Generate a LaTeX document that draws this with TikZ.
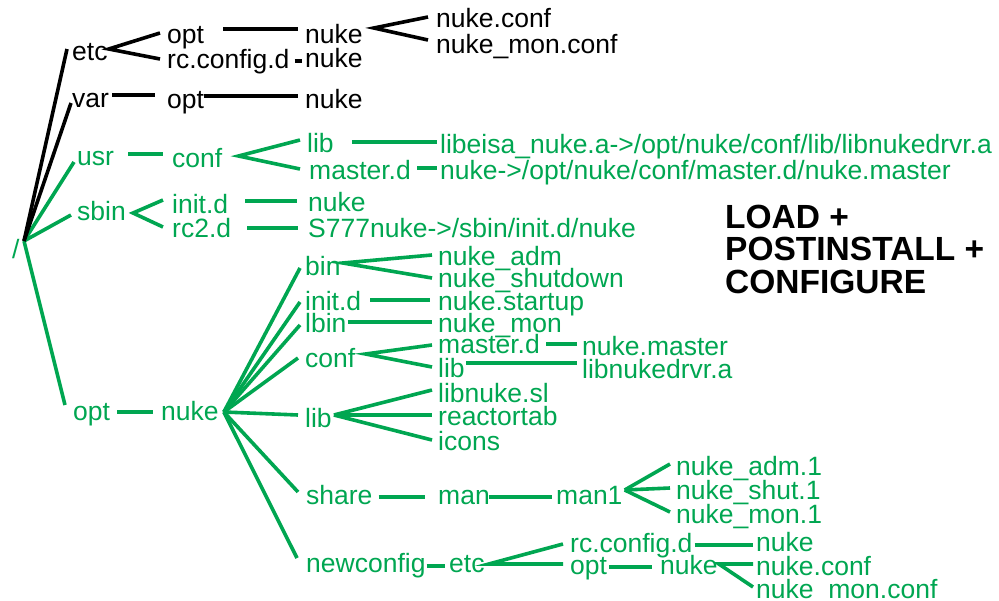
\documentclass[tikz,border=0pt]{standalone}
\usepackage{fontspec}
\setmainfont{Liberation Sans}
\definecolor{pkggreen}{RGB}{0,166,81}
\begin{document}
\begin{tikzpicture}[x=1pt,y=-1pt,
  lbl/.style={inner sep=0pt,anchor=base west,font=\fontsize{26.5}{26.5}\selectfont},
  blk/.style={lbl,text=black},
  grn/.style={lbl,text=pkggreen},
  kline/.style={draw=black,line width=3.6pt},
  gline/.style={draw=pkggreen,line width=3.6pt},
  banner/.style={inner sep=0pt,anchor=base west,
    font=\fontsize{33.5}{32.5}\selectfont\bfseries}]
\useasboundingbox (0,0) rectangle (999,600);

% ---- file names ----
\node[grn] (root) at (12,258) {/};
% /etc and /var (black)
\node[blk] (etc)      at (72,60)   {etc};
\node[blk] (var)      at (72,107)  {var};
\node[blk] (etcopt)   at (167,43)  {opt};
\node[blk] (rccfg)    at (167,68)  {rc.config.d};
\node[blk] (nukeA)    at (305,43)  {nuke};
\node[blk] (nukeB)    at (305,67)  {nuke};
\node[blk] (nconf)    at (436,27)  {nuke.conf};
\node[blk] (nmonconf) at (436,53)  {nuke\_mon.conf};
\node[blk] (varopt)   at (167,108) {opt};
\node[blk] (varnuke)  at (305,108) {nuke};
% /usr and /sbin
\node[grn] (usr)      at (77,165)  {usr};
\node[grn] (uconf)    at (172,167) {conf};
\node[grn] (ulib)     at (307,152) {lib};
\node[grn] (umaster)  at (309,179) {master.d};
\node[grn] (libeisa)  at (440,153) {libeisa\_nuke.a->/opt/nuke/conf/lib/libnukedrvr.a};
\node[grn] (nlink)    at (440,179) {nuke->/opt/nuke/conf/master.d/nuke.master};
\node[grn] (sbin)     at (77,220)  {sbin};
\node[grn] (sinit)    at (172,213) {init.d};
\node[grn] (src2)     at (172,237) {rc2.d};
\node[grn] (snuke)    at (308,211) {nuke};
\node[grn] (s777)     at (308,237) {S777nuke->/sbin/init.d/nuke};
% /opt/nuke
\node[grn] (opt)      at (73,420)  {opt};
\node[grn] (nuke)     at (161,420) {nuke};
\node[grn] (bin)      at (305,275) {bin};
\node[grn] (nadm)     at (438,265) {nuke\_adm};
\node[grn] (nshut)    at (438,287) {nuke\_shutdown};
\node[grn] (oinit)    at (305,310) {init.d};
\node[grn] (nstart)   at (438,310) {nuke.startup};
\node[grn] (lbin)     at (305,332) {lbin};
\node[grn] (nmon)     at (438,332) {nuke\_mon};
\node[grn] (oconf)    at (305,367) {conf};
\node[grn] (omaster)  at (438,353) {master.d};
\node[grn] (oclib)    at (438,377) {lib};
\node[grn] (nmaster)  at (582,355) {nuke.master};
\node[grn] (ldrvr)    at (582,378) {libnukedrvr.a};
\node[grn] (olib)     at (305,427) {lib};
\node[grn] (libsl)    at (438,402) {libnuke.sl};
\node[grn] (rtab)     at (438,425) {reactortab};
\node[grn] (icons)    at (438,450) {icons};
\node[grn] (share)    at (306,504) {share};
\node[grn] (man)      at (438,504) {man};
\node[grn] (man1)     at (556,504) {man1};
\node[grn] (adm1)     at (676,475) {nuke\_adm.1};
\node[grn] (shut1)    at (676,499) {nuke\_shut.1};
\node[grn] (mon1)     at (676,523) {nuke\_mon.1};
\node[grn] (newcfg)   at (306,572) {newconfig};
\node[grn] (netc)     at (449,572) {etc};
\node[grn] (nrccfg)   at (570,552) {rc.config.d};
\node[grn] (nopt)     at (570,574) {opt};
\node[grn] (nnukeD)   at (660,574) {nuke};
\node[grn] (nnukeE)   at (756,551) {nuke};
\node[grn] (nnconf)   at (756,575) {nuke.conf};
\node[grn] (nnmon)    at (756,598) {nuke\_mon.conf};

% stage banner, one line per node
\node[banner] (stage1) at (725,228) {LOAD +};
\node[banner] (stage2) at (725,260) {POSTINSTALL +};
\node[banner] (stage3) at (725,293) {CONFIGURE};

% ---- junction points ----
\coordinate (hub)   at ([shift={(12,-17)}]root.base west);
\coordinate (nhub)  at ([shift={(5,-8)}]nuke.base east);

% ---- green branches ----
\draw[gline] (hub) -- ([shift={(-3,-3)}]usr.base west);
\draw[gline] (hub) -- ([shift={(-6,-5)}]sbin.base west);
\draw[gline] (hub) -- ([shift={(-8,-15)}]opt.base west);

\draw[gline] ([shift={(14,-11)}]usr.base east) -- ([shift={(-9,-13)}]uconf.base west);
\draw[gline] ([shift={(-7,-12)}]ulib.base west) -- ([shift={(16,-11)}]uconf.base east)
             -- ([shift={(-9,-10)}]umaster.base west);
\draw[gline] ([shift={(18,-10)}]ulib.base east) -- ([shift={(-3,-11)}]libeisa.base west);
\draw[gline] ([shift={(6,-11)}]umaster.base east) -- ([shift={(-3,-11)}]nlink.base west);

\draw[gline] ([shift={(-9,-13)}]sinit.base west) -- ([shift={(7,-7)}]sbin.base east)
             -- ([shift={(-9,-10)}]src2.base west);
\draw[gline] ([shift={(17,-12)}]sinit.base east) -- ([shift={(-11,-10)}]snuke.base west);
\draw[gline] ([shift={(16,-9)}]src2.base east) -- ([shift={(-10,-9)}]s777.base west);

\draw[gline] ([shift={(7,-8)}]opt.base east) -- ([shift={(-8,-8)}]nuke.base west);
\draw[gline] (nhub) -- ([shift={(-5,-7)}]bin.base west);
\draw[gline] (nhub) -- ([shift={(-5,-8)}]oinit.base west);
\draw[gline] (nhub) -- ([shift={(-5,-7)}]lbin.base west);
\draw[gline] (nhub) -- ([shift={(-7,-9)}]oconf.base west);
\draw[gline] (nhub) -- ([shift={(-7,-12)}]olib.base west);
\draw[gline] (nhub) -- ([shift={(-8,-12)}]share.base west);
\draw[gline] (nhub) -- ([shift={(-9,-14)}]newcfg.base west);

\draw[gline] ([shift={(-6,-10)}]nadm.base west) -- ([shift={(2,-12)}]bin.base east)
             -- ([shift={(-6,-9)}]nshut.base west);
\draw[gline] ([shift={(9,-10)}]oinit.base east) -- ([shift={(-8,-10)}]nstart.base west);
\draw[gline] ([shift={(1,-10)}]lbin.base east) -- ([shift={(-6,-10)}]nmon.base west);
\draw[gline] ([shift={(-6,-8)}]omaster.base west) -- ([shift={(10,-13)}]oconf.base east)
             -- ([shift={(-6,-10)}]oclib.base west);
\draw[gline] ([shift={(6,-9)}]omaster.base east) -- ([shift={(-5,-11)}]nmaster.base west);
\draw[gline] ([shift={(1,-14)}]oclib.base east) -- ([shift={(-5,-15)}]ldrvr.base west);
\draw[gline] ([shift={(2,-12)}]olib.base east) -- ([shift={(-6,-12)}]libsl.base west);
\draw[gline] ([shift={(2,-12)}]olib.base east) -- ([shift={(-6,-10)}]rtab.base west);
\draw[gline] ([shift={(2,-12)}]olib.base east) -- ([shift={(-6,-10)}]icons.base west);

\draw[gline] ([shift={(6,-7)}]share.base east) -- ([shift={(-13,-7)}]man.base west);
\draw[gline] ([shift={(-1,-7)}]man.base east) -- ([shift={(-4,-7)}]man1.base west);
\draw[gline] ([shift={(2,-14)}]man1.base east) -- ([shift={(-6,-11)}]adm1.base west);
\draw[gline] ([shift={(2,-14)}]man1.base east) -- ([shift={(-6,-11)}]shut1.base west);
\draw[gline] ([shift={(2,-14)}]man1.base east) -- ([shift={(-6,-11)}]mon1.base west);

\draw[gline] ([shift={(1,-6)}]newcfg.base east) -- ([shift={(-4,-6)}]netc.base west);
\draw[gline] ([shift={(-7,-8)}]nrccfg.base west) -- ([shift={(4,-8)}]netc.base east)
             -- ([shift={(-7,-10)}]nopt.base west);
\draw[gline] ([shift={(2,-7)}]nopt.base east) -- ([shift={(-8,-7)}]nnukeD.base west);
\draw[gline] ([shift={(2,-7)}]nrccfg.base east) -- ([shift={(-3,-6)}]nnukeE.base west);
\draw[gline] ([shift={(-3,-11)}]nnconf.base west) -- ([shift={(1,-10)}]nnukeD.base east)
             -- ([shift={(-3,-11)}]nnmon.base west);

% ---- black branches ----
\draw[kline] (hub) -- ([shift={(-5,-11)}]etc.base west);
\draw[kline] (hub) -- ([shift={(-1,-4)}]var.base west);
\draw[kline] ([shift={(-7,-10)}]etcopt.base west) -- ([shift={(1,-11)}]etc.base east)
             -- ([shift={(-7,-9)}]rccfg.base west);
\draw[kline] ([shift={(19,-14)}]etcopt.base east) -- ([shift={(-7,-14)}]nukeA.base west);
\draw[kline] ([shift={(5,-7)}]rccfg.base east) -- ([shift={(-3,-6)}]nukeB.base west);
\draw[kline] ([shift={(-8,-10)}]nconf.base west) -- ([shift={(11,-15)}]nukeA.base east)
             -- ([shift={(-8,-13)}]nmonconf.base west);
\draw[kline] ([shift={(3,-12)}]var.base east) -- ([shift={(-12,-13)}]varopt.base west);
\draw[kline] ([shift={(0,-12)}]varopt.base east) -- ([shift={(-7,-12)}]varnuke.base west);
\end{tikzpicture}
\end{document}
